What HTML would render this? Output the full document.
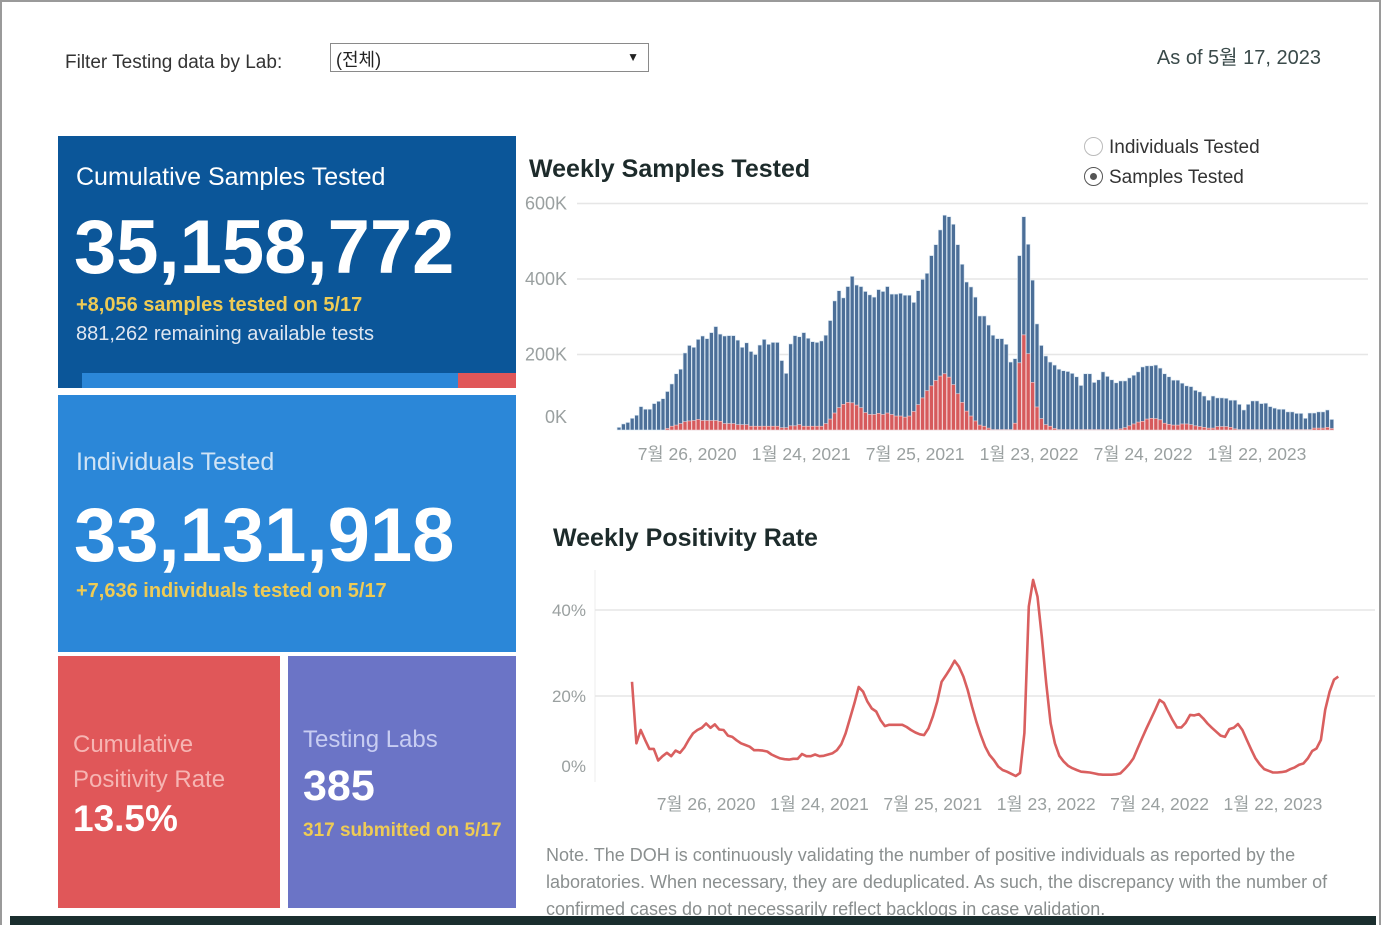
<!DOCTYPE html>
<html><head><meta charset="utf-8">
<style>
*{margin:0;padding:0;box-sizing:border-box}
body{width:1382px;height:925px;position:relative;background:#fff;overflow:hidden;font-family:"Liberation Sans","Noto Sans CJK KR",sans-serif}
.abs{position:absolute;white-space:nowrap}
#frame{position:absolute;left:0;top:0;width:1381px;height:925px;border:2px solid #9a9a9a;border-bottom:none}
</style></head><body>
<div id="frame"></div>
<div class="abs" style="left:65px;top:52px;font-size:19px;color:#333">Filter Testing data by Lab:</div>
<div class="abs" style="left:330px;top:43px;width:319px;height:29px;border:1px solid #8a8a8a;font-size:18px;color:#222;padding:2px 0 0 5px">(전체)<span style="position:absolute;right:9px;top:6px;font-size:12px">▼</span></div>
<div class="abs" style="right:61px;top:41px;font-size:20px;color:#3a4a4a">As of 5월 17, 2023</div>

<div class="abs" style="left:58px;top:136px;width:458px;height:252px;background:#0b5699">
  <div class="abs" style="left:18px;top:27px;font-size:25px;color:#fff">Cumulative Samples Tested</div>
  <div class="abs" style="left:16px;top:68px;font-size:76px;font-weight:bold;color:#fff">35,158,772</div>
  <div class="abs" style="left:18px;top:158px;font-size:20px;font-weight:bold;color:#eecb55">+8,056 samples tested on 5/17</div>
  <div class="abs" style="left:18px;top:187px;font-size:20px;color:#dfe6f0">881,262 remaining available tests</div>
  <div class="abs" style="left:24px;top:237px;width:376px;height:15px;background:#2b87d8"></div>
  <div class="abs" style="left:400px;top:237px;width:58px;height:15px;background:#e05759"></div>
</div>
<div class="abs" style="left:58px;top:395px;width:458px;height:257px;background:#2b87d8">
  <div class="abs" style="left:18px;top:53px;font-size:25px;color:#cfe3f5">Individuals Tested</div>
  <div class="abs" style="left:16px;top:97px;font-size:76px;font-weight:bold;color:#fff">33,131,918</div>
  <div class="abs" style="left:18px;top:185px;font-size:20px;font-weight:bold;color:#eecb55">+7,636 individuals tested on 5/17</div>
</div>
<div class="abs" style="left:58px;top:656px;width:222px;height:252px;background:#e05759">
  <div class="abs" style="left:15px;top:71px;font-size:24px;line-height:35px;color:#f6b5b3">Cumulative<br>Positivity Rate</div>
  <div class="abs" style="left:15px;top:142px;font-size:37px;font-weight:bold;color:#fff">13.5%</div>
</div>
<div class="abs" style="left:288px;top:656px;width:228px;height:252px;background:#6b74c6">
  <div class="abs" style="left:15px;top:70px;font-size:24px;color:#c8cdf2">Testing Labs</div>
  <div class="abs" style="left:15px;top:106px;font-size:43px;font-weight:bold;color:#fff">385</div>
  <div class="abs" style="left:15px;top:164px;font-size:19px;font-weight:bold;color:#eecb55">317 submitted on 5/17</div>
</div>

<div class="abs" style="left:529px;top:155px;font-size:25px;font-weight:bold;color:#1d2b2b">Weekly Samples Tested</div>
<div class="abs" style="left:1084px;top:137px;font-size:19px;color:#333"><span style="display:inline-block;width:19px;height:19px;border:1.5px solid #bbb;border-radius:50%;vertical-align:-3px;margin-right:6px"></span>Individuals Tested</div>
<div class="abs" style="left:1084px;top:167px;font-size:19px;color:#333"><span style="display:inline-block;width:19px;height:19px;border:1.5px solid #555;border-radius:50%;vertical-align:-3px;margin-right:6px;position:relative"><span style="position:absolute;left:4.5px;top:4.5px;width:7px;height:7px;border-radius:50%;background:#555"></span></span>Samples Tested</div>
<div class="abs" style="left:553px;top:524px;font-size:25px;font-weight:bold;color:#1d2b2b">Weekly Positivity Rate</div>
<div class="abs" style="left:546px;top:842px;width:836px;font-size:18px;line-height:27px;color:#8a8f8f;white-space:normal">Note. The DOH is continuously validating the number of positive individuals as reported by the laboratories. When necessary, they are deduplicated. As such, the discrepancy with the number of confirmed cases do not necessarily reflect backlogs in case validation.</div>
<div class="abs" style="left:10px;top:916px;width:1366px;height:9px;background:#1a2e2e"></div>

<svg id="charts" width="1382" height="925" style="position:absolute;left:0;top:0" xmlns="http://www.w3.org/2000/svg" font-family="Liberation Sans, Noto Sans CJK KR, sans-serif">
<g id="barChart"></g>
<g id="lineChart"></g>
</svg>
<script>
const samplesTested=[7,16,20,31,39,62,55,55,70,76,83,102,122,149,161,204,224,219,240,249,242,258,274,254,249,250,250,238,219,231,208,200,225,240,227,232,232,184,150,228,250,247,258,243,234,232,236,251,290,342,369,350,380,407,384,380,367,358,352,372,367,380,360,360,362,357,357,338,369,399,415,462,491,530,569,565,545,491,439,392,379,
352,302,302,278,251,242,242,227,180,189,462,565,492,397,281,224,196,180,172,161,157,155,150,141,118,149,149,126,133,154,142,133,125,130,130,138,145,154,167,170,170,172,164,149,141,132,132,124,117,115,105,101,90,79,90,85,85,84,79,79,68,53,68,77,77,70,71,62,58,55,55,48,48,44,44,31,45,45,48,48,53,28];
const samplesPositive=[0,0,0,0,0,0,0,0,0,0,0,4,10,13,17,22,24,25,28,25,25,25,25,23,17,17,17,14,14,14,10,10,10,10,10,10,10,6,6,11,11,14,10,10,10,10,10,17,29,45,59,68,73,72,66,59,46,41,41,44,41,45,41,37,37,34,37,49,67,85,104,117,131,143,149,140,120,96,73,50,37,
24,13,10,5,1,1,1,1,1,18,178,252,202,126,61,30,14,10,4,1,1,1,1,1,1,1,1,1,1,1,1,1,1,3,6,11,16,21,23,29,31,30,27,18,15,13,13,16,16,14,11,9,7,5,5,9,9,9,7,3,1,1,1,1,1,1,1,1,1,1,1,1,1,1,1,1,1,5,5,5,7,4];
const barYTicks=[0,200,400,600];
const barXTickLabels=["7월 26, 2020","1월 24, 2021","7월 25, 2021","1월 23, 2022","7월 24, 2022","1월 22, 2023"];
const barXTickIdx=[15.5,41.4,67.3,93.2,119.1,145];

const rateWeeks=[0,1,2,3,4,5,6,7,8,9,10,11,12,13,14,15,16,17,18,19,20,21,22,23,24,25,26,27,28,29,30,31,32,33,34,35,36,37,38,39,40,41,42,43,44,45,46,47,48,49,50,51,52,53,54,55,56,57,58,59,60,61,62,63,64,65,66,67,68,69,70,71,72,73,74,75,76,77,78,79,80,81,82,83,84,85,86,87,88,89,90,91,92,93,94,95,96,97,98,99,100,101,102,103,104,105,106,107,108,109,110,111,112,113,114,115,116,117,118,119,120,121,122,123,124,125,126,127,128,129,130,131,132,133,134,135,136,137,138,139,140,141,142,143,144,145,146,147,148,149,150,151,152,153,154,155,156,157,158,159,160,161,162];
const rateValues=[23.3,9.0,12.1,9.8,7.7,7.7,5.0,6.0,6.8,6.0,7.3,6.8,8.0,9.8,11.3,12.1,12.6,13.6,12.6,13.4,12.2,12.1,10.8,10.5,9.7,9.0,8.6,8.2,7.4,7.4,7.3,7.1,6.4,5.9,5.5,5.3,5.2,5.4,5.4,6.5,6.0,6.0,6.4,6.0,6.1,6.4,6.7,7.4,8.8,11.3,14.8,18.3,22.1,21.0,18.7,17.1,16.4,14.4,13.0,13.3,13.3,13.3,13.3,12.8,12.1,11.5,11.1,10.9,12.5,15.2,18.7,23.3,24.8,26.4,28.2,26.8,24.5,21.4,17.5,14.0,10.9,8.2,6.3,5.1,3.6,2.8,2.4,1.9,1.4,2.1,11.4,40.8,47.0,43.1,33.8,23.0,13.7,9.0,6.1,4.8,3.8,3.2,2.8,2.4,2.3,2.2,2.0,1.8,1.7,1.7,1.7,1.8,2.0,3.0,4.1,5.5,7.9,10.2,12.5,14.6,16.8,19.1,18.4,16.3,14.4,12.7,12.7,13.8,15.6,15.5,15.8,14.8,13.6,12.6,11.7,10.8,10.5,12.3,12.6,13.5,12.1,9.8,7.6,5.5,4.1,3.0,2.6,2.2,2.2,2.3,2.5,3.0,3.4,4.0,4.3,5.5,7.2,7.8,9.8,16.8,21.0,23.8,24.5];
const rateYTicks=[0,20,40];
const rateXTickLabels=["7월 26, 2020","1월 24, 2021","7월 25, 2021","1월 23, 2022","7월 24, 2022","1월 22, 2023"];
const rateXTickWeeks=[17,43,69,95,121,147];

const NS="http://www.w3.org/2000/svg";
function mk(tag,attrs,parent){const e=document.createElementNS(NS,tag);for(const k in attrs)e.setAttribute(k,attrs[k]);parent.appendChild(e);return e;}

const bg=document.getElementById('barChart');
const bx=i=>619+i*4.4;
const by=v=>430-v*75.5/200;
barYTicks.forEach(t=>{
  if(t>0){const l=mk('line',{x1:577,x2:1368,y1:by(t),y2:by(t),stroke:'#e6e6e6','stroke-width':1.5},bg);
  
  }
  const tx=mk('text',{x:567,y:t===0?by(t)-7:by(t)+6,'text-anchor':'end','font-size':18,fill:'#9aa0a0'},bg);
  tx.textContent=t+'K';
  
  
});
samplesTested.forEach((v,i)=>{
  const r=mk('rect',{x:bx(i)-1.9,y:by(v),width:3.8,height:430-by(v),fill:'#4c6f98',stroke:'#d8e6f2','stroke-width':0.6},bg);
  
  
});
samplesPositive.forEach((v,i)=>{
  if(v<=0)return;
  const r=mk('rect',{x:bx(i)-1.9,y:by(v),width:3.8,height:430-by(v),fill:'#d65a5c',stroke:'#f4d0d0','stroke-width':0.6},bg);
  
  
});
barXTickLabels.forEach((s,k)=>{
  const tx=mk('text',{x:bx(barXTickIdx[k]),y:460,'text-anchor':'middle','font-size':17.5,fill:'#9aa0a0'},bg);
  tx.textContent=s;
  
  
});

const lg=document.getElementById('lineChart');
const lx=w=>632+w*4.36;
const ly=r=>782-r*4.3;
const ax=mk('line',{x1:595,x2:595,y1:570,y2:782,stroke:'#eeeeee','stroke-width':1},lg);


rateYTicks.forEach(t=>{
  if(t>0){const l=mk('line',{x1:595,x2:1375,y1:ly(t),y2:ly(t),stroke:'#e6e6e6','stroke-width':1.5},lg);
  
  }
  const tx=mk('text',{x:586,y:t===0?ly(t)-10:ly(t)+6,'text-anchor':'end','font-size':17,fill:'#9aa0a0'},lg);
  tx.textContent=t+'%';
  
  
});
const pts=rateWeeks.map((w,i)=>lx(w).toFixed(1)+','+ly(rateValues[i]).toFixed(1)).join(' ');
const pl=mk('polyline',{points:pts,fill:'none',stroke:'#d95f5f','stroke-width':2.6,'stroke-linejoin':'round'},lg);


rateXTickLabels.forEach((s,k)=>{
  const tx=mk('text',{x:lx(rateXTickWeeks[k]),y:810,'text-anchor':'middle','font-size':17.5,fill:'#9aa0a0'},lg);
  tx.textContent=s;
  
  
});
</script>
</body></html>
